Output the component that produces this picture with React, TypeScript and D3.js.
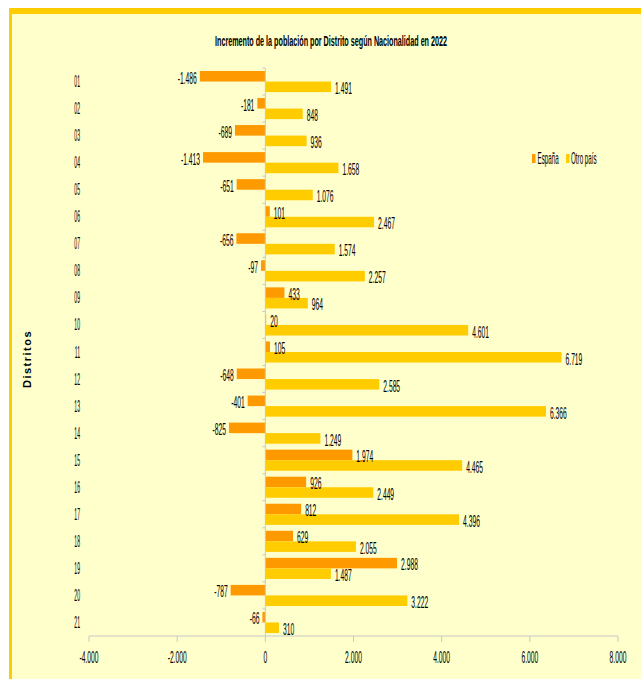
import * as d3 from "d3";
import React from "react";

const distritos = ["01", "02", "03", "04", "05", "06", "07", "08", "09", "10", "11", "12", "13", "14", "15", "16", "17", "18", "19", "20", "21"];
const espana = [-1486, -181, -689, -1413, -651, 101, -656, -97, 433, 20, 105, -648, -401, -825, 1974, 926, 812, 629, 2988, -787, -66];
const otroPais = [1491, 848, 936, 1658, 1076, 2467, 1574, 2257, 964, 4601, 6719, 2585, 6366, 1249, 4465, 2449, 4396, 2055, 1487, 3222, 310];
const series = ["España", "Otro país"];
const xTicks = [-4000, -2000, 0, 2000, 4000, 6000, 8000];
const title = "Incremento de la población por Distrito según Nacionalidad en 2022";

const W = 641;
const H = 679;
const colors: Record<string, string> = { "España": "#FF9900", "Otro país": "#FFCC00" };
const font = "'Liberation Sans', Arial, sans-serif";

const locale = d3.formatLocale({ decimal: ",", thousands: ".", grouping: [3], currency: ["", "€"], minus: "-" });
const fmt = locale.format(",.0f");

// text squeezed horizontally, like the narrow font of the original
function SText(props: {
  x: number; y: number; sx: number; size: number; anchor?: string; weight?: string; fill?: string; children: React.ReactNode;
}) {
  const { x, y, sx, size, anchor = "start", weight = "normal", fill = "#000", children } = props;
  return (
    <text
      transform={`translate(${x},${y}) scale(${sx},1)`}
      fontSize={size}
      fontFamily={font}
      fontWeight={weight}
      textAnchor={anchor}
      fill={fill}
    >
      {children}
    </text>
  );
}

export default function App() {
  const x = d3.scaleLinear().domain([-4000, 8000]).range([89, 618]);
  const y = d3.scaleBand<string>().domain(distritos).range([68, 636]).paddingInner(0.22).paddingOuter(0.11);
  const sub = d3.scaleBand<string>().domain(series).range([0, y.bandwidth()]);

  const rows = distritos.map((d, i) => ({ d, vals: [espana[i], otroPais[i]] }));
  const x0 = x(0);
  const axisY = 636;

  return (
    <svg width={W} height={H} style={{ position: "absolute", left: 0, top: 0 }}>
      <rect x={0} y={0} width={W} height={H} fill="#fff" />
      <rect x={10} y={8} width={W - 10} height={H - 8} fill="#FFFFCC" />
      <rect x={9} y={8} width={W - 9} height={6} fill="#FFCC00" />
      <rect x={9} y={8} width={3} height={H - 8} fill="#FFCC00" />

      <text
        x={331}
        y={46}
        fontSize={15}
        fontWeight="bold"
        fontFamily={font}
        textAnchor="middle"
        textLength={232}
        lengthAdjust="spacingAndGlyphs"
      >
        {title}
      </text>

      {/* bars */}
      {rows.map((r) =>
        r.vals.map((v, j) => {
          const s = series[j];
          const by = (y(r.d) ?? 0) + (sub(s) ?? 0);
          const bh = sub.bandwidth();
          return (
            <rect
              key={r.d + s}
              x={Math.min(x(v), x0)}
              y={by}
              width={Math.abs(x(v) - x0)}
              height={bh}
              fill={colors[s]}
            />
          );
        })
      )}

      {/* vertical axis at 0 */}
      <line x1={x0} x2={x0} y1={y.range()[0]} y2={axisY} stroke="#c8c8c8" strokeWidth={1} />
      {distritos.map((d) => {
        const yy = (y(d) ?? 0) - (y.step() * y.paddingInner()) / 2;
        return <line key={"yt" + d} x1={x0 - 3} x2={x0} y1={yy} y2={yy} stroke="#c8c8c8" />;
      })}

      {/* value labels */}
      {rows.map((r) =>
        r.vals.map((v, j) => {
          const s = series[j];
          const by = (y(r.d) ?? 0) + (sub(s) ?? 0);
          const bh = sub.bandwidth();
          const neg = v < 0;
          return (
            <SText
              key={"l" + r.d + s}
              x={neg ? x(v) - 3 : x(v) + 4}
              y={by + bh + 2}
              sx={0.42}
              size={16}
              anchor={neg ? "end" : "start"}
            >
              {fmt(v)}
            </SText>
          );
        })
      )}

      {/* category labels */}
      {distritos.map((d) => (
        <SText key={"c" + d} x={80} y={(y(d) ?? 0) + y.bandwidth() / 2 + 5.5} sx={0.32} size={16} anchor="end">
          {d}
        </SText>
      ))}

      {/* x axis */}
      <line x1={x(-4000)} x2={x(8000)} y1={axisY} y2={axisY} stroke="#c8c8c8" />
      {xTicks.map((t) => (
        <g key={"xt" + t}>
          <line x1={x(t)} x2={x(t)} y1={axisY} y2={axisY + 6} stroke="#c8c8c8" />
          <SText x={x(t)} y={663} sx={0.42} size={16} anchor="middle">
            {fmt(t)}
          </SText>
        </g>
      ))}

      {/* y axis title */}
      <text
        transform="translate(31,359) rotate(-90)"
        fontSize={11}
        fontWeight="bold"
        fontFamily={font}
        textAnchor="middle"
        letterSpacing={1.5}
      >
        Distritos
      </text>

      {/* legend */}
      <rect x={532} y={154} width={3.5} height={9} fill={colors["España"]} />
      <SText x={537.5} y={164} sx={0.39} size={16}>España</SText>
      <rect x={566} y={154} width={3.5} height={9} fill={colors["Otro país"]} />
      <SText x={571} y={164} sx={0.39} size={16}>Otro país</SText>
    </svg>
  );
}
